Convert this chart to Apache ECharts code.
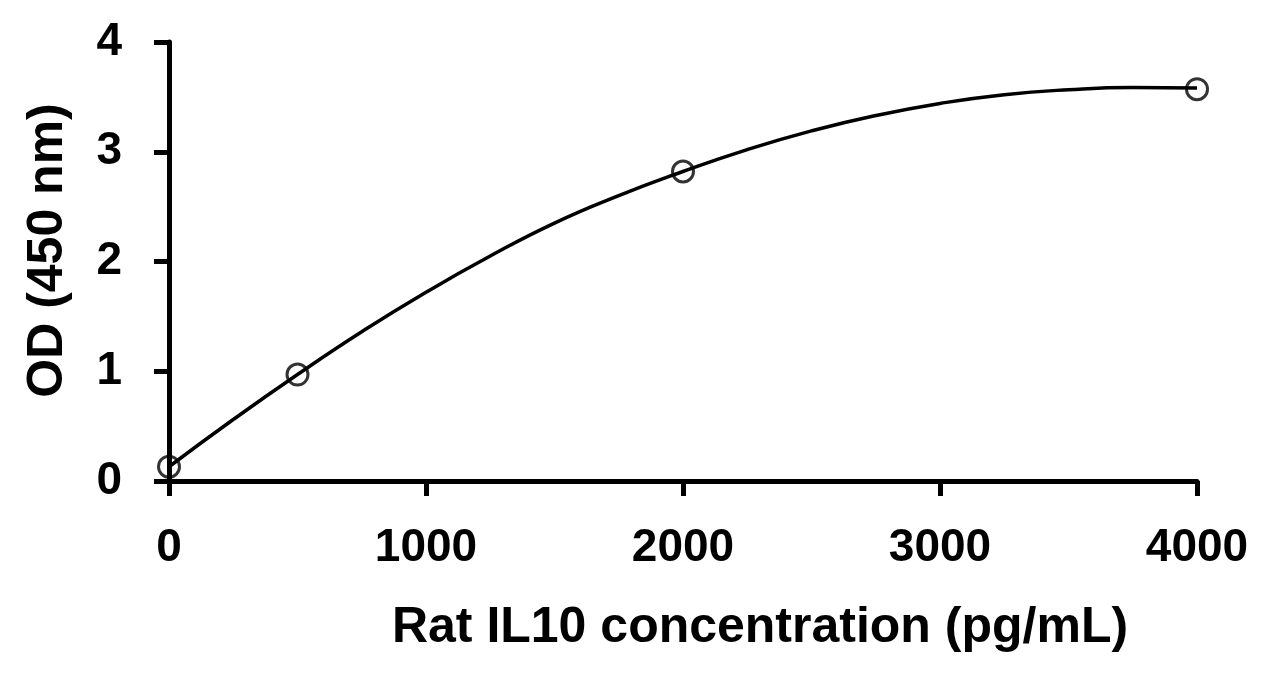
<!DOCTYPE html>
<html>
<head>
<meta charset="utf-8">
<script src="https://cdn.jsdelivr.net/npm/echarts@6/dist/echarts.min.js"></script>
<style>
  html, body { margin: 0; padding: 0; background: #fff; }
  #chart { width: 1272px; height: 686px; }
</style>
</head>
<body>
<div id="chart"></div>
<script>
// measured standards
var conc = [0, 500, 2000, 4000];
var od = [0.13, 0.97, 2.82, 3.57];

// fitted curve, every 250 pg/mL
var fitConc = [0, 250, 500, 750, 1000, 1250, 1500, 1750, 2000, 2250, 2500, 2750, 3000, 3250, 3500, 3750, 4000];
var fitOd = [0.13, 0.56, 0.97, 1.36, 1.72, 2.05, 2.35, 2.60, 2.82, 3.02, 3.19, 3.33, 3.44, 3.52, 3.565, 3.585, 3.58];

var xTicks = [0, 1000, 2000, 3000, 4000];
var yTicks = [0, 1, 2, 3, 4];

var font = '"Liberation Sans", Arial, sans-serif';

var chart = echarts.init(document.getElementById('chart'));

var points = conc.map(function (c, i) { return [c, od[i]]; });
var curve = fitConc.map(function (c, i) { return [c, fitOd[i]]; });

var axisCommon = {
    axisLine: { show: true, lineStyle: { color: '#000', width: 5 } },
    axisTick: { show: true, inside: false, length: 15, lineStyle: { color: '#000', width: 5 } },
    splitLine: { show: false },
    nameLocation: 'middle',
    nameTextStyle: { color: '#000', fontFamily: font, fontWeight: 'bold', fontSize: 50 }
};

var option = {
    animation: false,
    backgroundColor: '#fff',
    grid: { left: 169, right: 75, top: 42, bottom: 205, containLabel: false },
    xAxis: echarts.util.merge({
        type: 'value',
        min: xTicks[0],
        max: xTicks[xTicks.length - 1],
        interval: 1000,
        name: 'Rat IL10 concentration (pg/mL)',
        nameGap: 122,
        nameTextStyle: { padding: [0, 0, 0, 154] },
        axisLabel: {
            color: '#000', fontFamily: font, fontWeight: 'bold', fontSize: 46, margin: 44,
            formatter: function (v) { return String(v); }
        }
    }, axisCommon, false),
    yAxis: echarts.util.merge({
        type: 'value',
        min: yTicks[0],
        max: yTicks[yTicks.length - 1],
        interval: 1,
        name: 'OD (450 nm)',
        nameGap: 96,
        nameTextStyle: { padding: [0, 0, 0, 22] },
        axisLabel: {
            color: '#000', fontFamily: font, fontWeight: 'bold', fontSize: 46, margin: 47,
            formatter: function (v) { return String(v); }
        }
    }, axisCommon, false),
    series: [
        {
            name: 'fit',
            type: 'line',
            data: curve,
            smooth: true,
            showSymbol: false,
            lineStyle: { color: '#000', width: 3.5 },
            z: 2
        },
        {
            name: 'standards',
            type: 'scatter',
            data: points,
            symbol: 'circle',
            symbolSize: 21,
            itemStyle: { color: 'rgba(0,0,0,0)', borderColor: '#000', borderWidth: 3 },
            z: 3
        }
    ]
};

chart.setOption(option);
</script>
</body>
</html>
